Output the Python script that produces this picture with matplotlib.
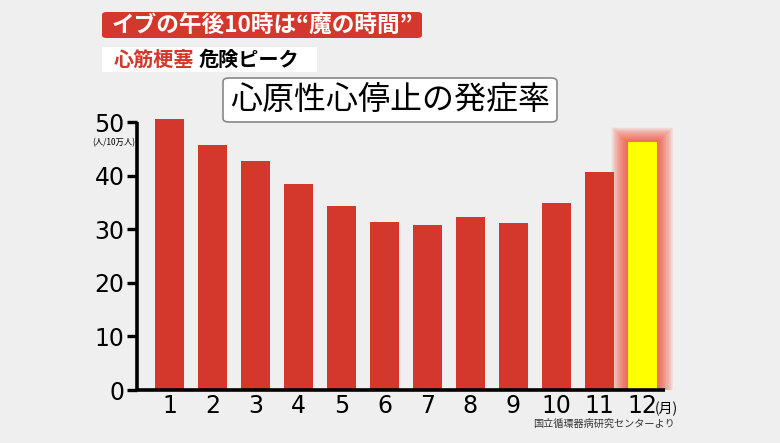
import matplotlib.pyplot as plt
from matplotlib.patches import FancyBboxPatch, Rectangle
import numpy as np

plt.rcParams['font.family'] = ['Noto Sans CJK JP', 'DejaVu Sans']

# data (人/10万人)
months = [1, 2, 3, 4, 5, 6, 7, 8, 9, 10, 11, 12]
month_labels = ['1', '2', '3', '4', '5', '6', '7', '8', '9', '10', '11', '12']
rates = [50.5, 45.8, 42.7, 38.5, 34.3, 31.4, 30.8, 32.3, 31.2, 34.9, 40.7, 46.2]
yticks = [0, 10, 20, 30, 40, 50]

BG = '#efefef'
RED = '#d4372b'
YELLOW = '#ffff00'
W, H = 780, 443

fig = plt.figure(figsize=(7.8, 4.43), dpi=100, facecolor=BG)


def fx(px):
    return px / W


def fy(py):
    return 1 - py / H


ax = fig.add_axes([fx(137), fy(390), fx(665) - fx(137), fy(122) - fy(390)])
ax.set_facecolor(BG)

# soft glow around the december bar
n_glow = 24
for k in range(n_glow, 0, -1):
    grow = k * 0.016
    ax.bar(months[-1], rates[-1] + k * 0.12, width=0.68 + 2 * grow,
           color='#ff3018', alpha=0.045, linewidth=0, clip_on=False, zorder=1)

colors = [RED] * 11 + [YELLOW]
ax.bar(months, rates, width=0.68, color=colors, linewidth=0, clip_on=False, zorder=2)

ax.set_xlim(0.24, 12.53)
ax.set_ylim(0, 50)
for s in ['top', 'right']:
    ax.spines[s].set_visible(False)
ax.spines['left'].set_linewidth(2.6)
ax.spines['bottom'].set_linewidth(2.6)
ax.spines['left'].set_capstyle('butt')
ax.spines['bottom'].set_capstyle('butt')
ax.spines['bottom'].set_zorder(4)

ax.set_yticks(yticks)
ax.set_yticklabels([str(v) for v in yticks], fontsize=17, family='DejaVu Sans')
ax.tick_params(axis='y', length=7, width=2.4, pad=2)
ax.set_xticks(months)
ax.set_xticklabels(month_labels, fontsize=17, family='DejaVu Sans')
ax.tick_params(axis='x', length=0, pad=3)

fig.text(fx(114), fy(143), '(人/10万人)', fontsize=6, ha='center', va='center')
fig.text(fx(655), fy(409), '(月)', fontsize=10, ha='left', va='center')
fig.text(fx(604), fy(424), '国立循環器病研究センターより', fontsize=7.3,
         ha='center', va='center', color='#333333')

# header boxes
fig.patches.append(FancyBboxPatch((fx(102), fy(38)), fx(422) - fx(102), fy(12) - fy(38),
                                  boxstyle='round,pad=0,rounding_size=0.006',
                                  transform=fig.transFigure, facecolor=RED,
                                  edgecolor='none'))
fig.text(fx(262), fy(25), 'イブの午後10時は“魔の時間”', fontsize=16.3, color='white',
         ha='center', va='center', fontweight='bold')

fig.patches.append(Rectangle((fx(102), fy(72)), fx(317) - fx(102), fy(47) - fy(72),
                             transform=fig.transFigure, facecolor='white',
                             edgecolor='none'))
fig.text(fx(114), fy(59.5), '心筋梗塞', fontsize=14.5, color=RED, ha='left',
         va='center', fontweight='bold')
fig.text(fx(199), fy(59.5), '危険ピーク', fontsize=14.5, color='black', ha='left',
         va='center', fontweight='bold')

fig.patches.append(FancyBboxPatch((fx(223), fy(122)), fx(557) - fx(223), fy(78) - fy(122),
                                  boxstyle='round,pad=0,rounding_size=0.008',
                                  transform=fig.transFigure, facecolor='white',
                                  edgecolor='#888888', linewidth=1.2))
fig.text(fx(390), fy(100), '心原性心停止の発症率', fontsize=23, color='black',
         ha='center', va='center')

fig.savefig('out.png', dpi=100, facecolor=BG)
